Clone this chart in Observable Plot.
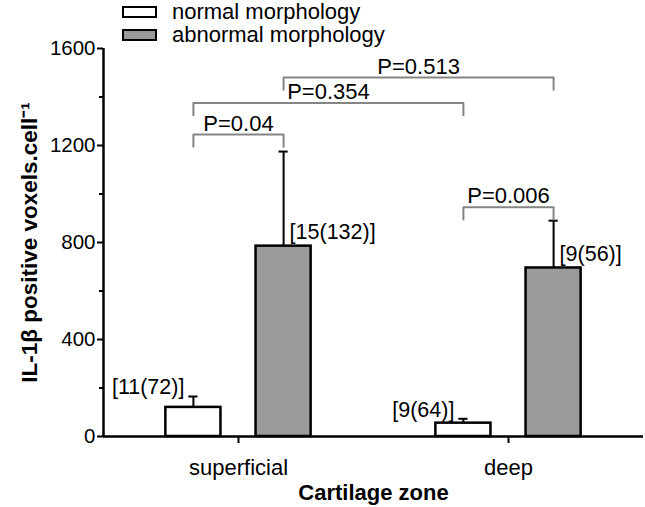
<!DOCTYPE html>
<html>
<head>
<meta charset="utf-8">
<script src="https://cdn.jsdelivr.net/npm/d3@7"></script>
<script src="https://cdn.jsdelivr.net/npm/@observablehq/plot@0.6"></script>
<style>
  body { margin: 0; background: white; }
  #wrap { position: relative; width: 645px; height: 507px; font-family: "Liberation Sans", Arial, sans-serif; }
  #legend { position: absolute; left: 122px; top: 0px; font-size: 22px; line-height: 23px; }
  .item { display: flex; align-items: center; height: 23px; }
  .sw { width: 31px; height: 8px; border: 2px solid black; margin-right: 15px; }
</style>
</head>
<body>
<div id="wrap">
  <div id="legend"></div>
</div>
<script>
// ---- data ----
const zones = ["superficial", "deep"];
const groups = ["normal", "abnormal"];
const groupLabels = ["normal morphology", "abnormal morphology"];
const groupColors = ["white", "#9a9a9a"];
const normalMean = [120, 55];
const normalErr = [45, 18];
const abnormalMean = [785, 695];
const abnormalErr = [390, 195];
const normalN = ["[11(72)]", "[9(64)]"];
const abnormalN = ["[15(132)]", "[9(56)]"];
const yTicks = [0, 400, 800, 1200, 1600];
const yMinor = [200, 600, 1000, 1400];
// comparisons: [zone index, group] pairs
const pLabels = ["P=0.04", "P=0.354", "P=0.513", "P=0.006"];
const pFrom = [[0, "normal"], [0, "normal"], [0, "abnormal"], [1, "normal"]];
const pTo = [[0, "abnormal"], [1, "normal"], [1, "abnormal"], [1, "abnormal"]];
const pHeight = [1245, 1375, 1480, 945];
const legDrop = 50;

// ---- layout helpers ----
const xDomain = [-0.5, 1.5];
const offset = {normal: -0.167, abnormal: 0.167};
const halfW = 0.102;
const capW = 0.017;
const xc = (i, g) => i + offset[g];

const rows = zones.flatMap((z, i) => [
  {i, group: "normal", mean: normalMean[i], err: normalErr[i], n: normalN[i]},
  {i, group: "abnormal", mean: abnormalMean[i], err: abnormalErr[i], n: abnormalN[i]}
]).map(d => ({...d, x: xc(d.i, d.group), top: d.mean + d.err}));

const comps = pLabels.map((label, k) => ({
  label,
  x1: xc(pFrom[k][0], pFrom[k][1]),
  x2: xc(pTo[k][0], pTo[k][1]),
  y: pHeight[k]
}));
const bracketPts = comps.flatMap((c, k) => [
  {k, x: c.x1, y: c.y - legDrop},
  {k, x: c.x1, y: c.y},
  {k, x: c.x2, y: c.y},
  {k, x: c.x2, y: c.y - legDrop}
]);

const normalRows = rows.filter(d => d.group === "normal");
const abnormalRows = rows.filter(d => d.group === "abnormal");

const chart = Plot.plot({
  width: 645,
  height: 507,
  marginLeft: 103,
  marginRight: 2,
  marginTop: 48,
  marginBottom: 71,
  style: {fontFamily: "'Liberation Sans', Arial, sans-serif", fontSize: "20px", color: "black", background: "transparent", overflow: "visible"},
  x: {domain: xDomain, axis: null},
  y: {domain: [0, 1600], axis: null},
  marks: [
    Plot.axisY({ticks: yTicks, tickFormat: d => String(d), tickSize: 6, tickPadding: 2, fontSize: 20.5, label: null, strokeWidth: 2}),
    Plot.axisY({ticks: yMinor, tickSize: 4, tickFormat: () => "", label: null, strokeWidth: 2}),
    Plot.axisX({ticks: [0, 1], tickFormat: i => zones[i], tickSize: 7, tickPadding: 16, fontSize: 22, label: null, strokeWidth: 2}),
    // error bars
    Plot.ruleX(rows, {x: "x", y1: "mean", y2: "top", stroke: "black", strokeWidth: 2}),
    Plot.ruleY(rows, {x1: d => d.x - capW, x2: d => d.x + capW, y: "top", stroke: "black", strokeWidth: 2}),
    // bars
    Plot.rectY(normalRows, {x1: d => d.x - halfW, x2: d => d.x + halfW, y1: 0, y2: "mean", fill: groupColors[0], stroke: "black", strokeWidth: 2.5}),
    Plot.rectY(abnormalRows, {x1: d => d.x - halfW, x2: d => d.x + halfW, y1: 0, y2: "mean", fill: groupColors[1], stroke: "black", strokeWidth: 2.5}),
    // axis lines
    Plot.ruleY([0], {stroke: "black", strokeWidth: 2.5}),
    Plot.ruleX([xDomain[0]], {y1: 0, y2: 1600, stroke: "black", strokeWidth: 2.5}),
    // n labels
    Plot.text(normalRows, {x: "x", y: "top", text: "n", textAnchor: "end", dx: -9, dy: -9, fontSize: 21.5}),
    Plot.text(abnormalRows, {x: "x", y: "mean", text: "n", textAnchor: "start", dx: 6, dy: -14, fontSize: 21.5}),
    // brackets
    Plot.line(bracketPts, {x: "x", y: "y", z: "k", stroke: "#858585", strokeWidth: 2}),
    Plot.text(comps, {x: d => (d.x1 + d.x2) / 2, y: "y", text: "label", dy: -11, fontSize: 22}),
    // axis titles
    Plot.text(["Cartilage zone"], {frameAnchor: "bottom", dy: 63, fontSize: 22, fontWeight: "bold"}),
    Plot.text(["IL-1β positive voxels.cell⁻¹"], {frameAnchor: "left", textAnchor: "middle", dx: -74, rotate: -90, fontSize: 22.5, fontWeight: "bold"})
  ]
});
chart.style.position = "absolute";
chart.style.left = "0px";
chart.style.top = "0px";
const wrap = document.getElementById("wrap");
wrap.insertBefore(chart, wrap.firstChild);

const legend = document.getElementById("legend");
groupLabels.forEach((lab, k) => {
  const item = document.createElement("div");
  item.className = "item";
  const sw = document.createElement("span");
  sw.className = "sw";
  sw.style.background = groupColors[k];
  const t = document.createElement("span");
  t.textContent = lab;
  item.appendChild(sw);
  item.appendChild(t);
  legend.appendChild(item);
});
</script>
</body>
</html>
